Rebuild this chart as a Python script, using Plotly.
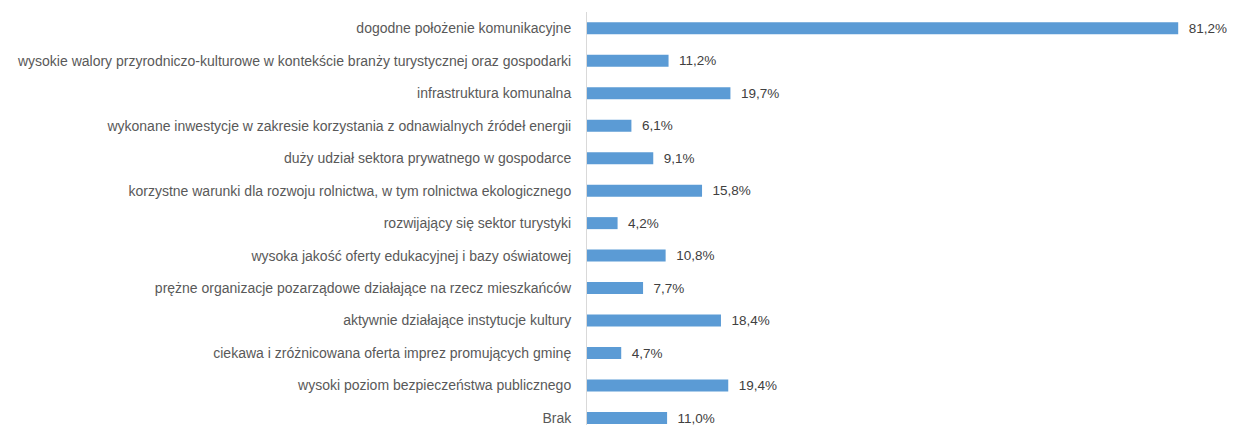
import plotly.graph_objects as go

categories = [
    "dogodne położenie komunikacyjne",
    "wysokie walory przyrodniczo-kulturowe w kontekście branży turystycznej oraz gospodarki",
    "infrastruktura komunalna",
    "wykonane inwestycje w zakresie korzystania z odnawialnych źródeł energii",
    "duży udział sektora prywatnego w gospodarce",
    "korzystne warunki dla rozwoju rolnictwa, w tym rolnictwa ekologicznego",
    "rozwijający się sektor turystyki",
    "wysoka jakość oferty edukacyjnej i bazy oświatowej",
    "prężne organizacje pozarządowe działające na rzecz mieszkańców",
    "aktywnie działające instytucje kultury",
    "ciekawa i zróżnicowana oferta imprez promujących gminę",
    "wysoki poziom bezpieczeństwa publicznego",
    "Brak",
]
values = [81.2, 11.2, 19.7, 6.1, 9.1, 15.8, 4.2, 10.8, 7.7, 18.4, 4.7, 19.4, 11.0]

fig = go.Figure()
fig.add_trace(go.Bar(
    y=categories,
    x=values,
    orientation="h",
    marker=dict(color="#5B9BD5", line=dict(width=0)),
    width=0.37,
    text=[("\u00a0\u00a0" + f"{v:.1f}".replace(".", ",") + "%") for v in values],
    textposition="outside",
    constraintext="none",
    textfont=dict(family="Liberation Sans", size=13.5, color="#404040"),
    cliponaxis=False,
    hoverinfo="skip",
))

fig.update_layout(
    width=1227,
    height=417,
    margin=dict(l=579, r=0, t=4, b=0),
    paper_bgcolor="white",
    plot_bgcolor="white",
    showlegend=False,
    font=dict(family="Liberation Sans", size=14, color="#595959"),
    xaxis=dict(
        range=[0, 89.0],
        showgrid=False,
        zeroline=False,
        showline=False,
        showticklabels=False,
        ticks="",
    ),
    yaxis=dict(
        type="category",
        categoryorder="array",
        categoryarray=categories,
        range=[12.215, -0.5],
        showgrid=False,
        zeroline=False,
        showline=True,
        linecolor="#d9d9d9",
        linewidth=1,
        ticks="",
        ticklabelstandoff=12,
        tickfont=dict(family="Liberation Sans", size=14, color="#595959"),
        automargin=False,
    ),
)

fig.write_html("out.html")
